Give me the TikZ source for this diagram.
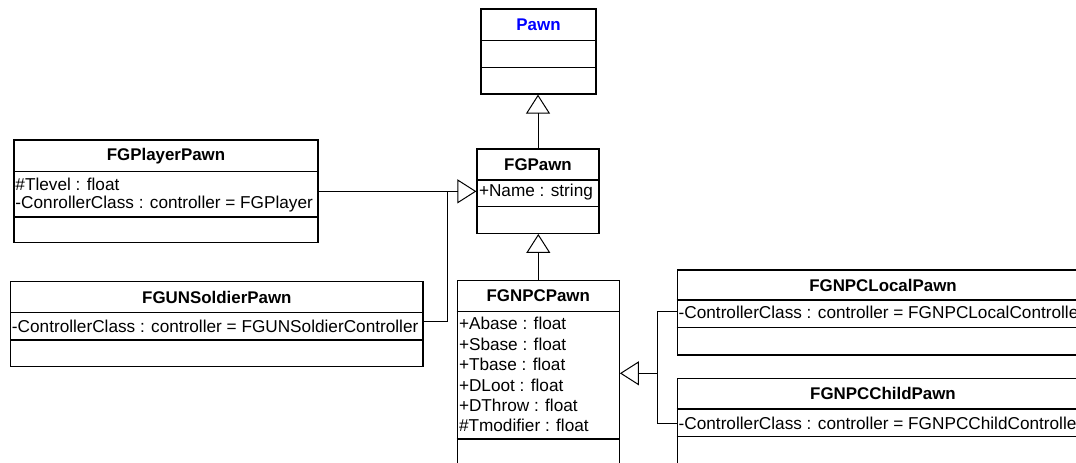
\documentclass[tikz,border=0pt]{standalone}
\usepackage{fontspec}
\setmainfont{Liberation Sans}
\usetikzlibrary{arrows.meta,calc}
\begin{document}
\begin{tikzpicture}[x=1pt,y=-1pt,
  font=\fontsize{17.2}{20}\selectfont,
  classbox/.style={draw, line width=1.2pt, inner sep=0pt, fill=white},
  hdr/.style={font=\fontsize{16.9}{20}\selectfont\bfseries, inner sep=0pt},
  attr/.style={anchor=west, inner sep=0pt},
  divline/.style={line width=1.2pt},
  conn/.style={draw, line width=1pt},
  gen/.style={-{Triangle[open, length=19pt, width=24pt]}}]
\useasboundingbox (0,0) rectangle (1076,463);
\clip (0,0) rectangle (1076,463);

% Pawn
\node[classbox, minimum width=115pt, minimum height=85pt] (pawn) at (538.5,51.5) {};
\node[hdr, text=blue] (pawnh) at (538.5,25) {Pawn};
\draw[divline] (pawn.west |- 0,40.7) -- (pawn.east |- 0,40.7);
\draw[divline] (pawn.west |- 0,67.7) -- (pawn.east |- 0,67.7);

% FGPawn
\node[classbox, minimum width=122pt, minimum height=84.3pt] (fgpawn) at (538,191.2) {};
\node[hdr] (fgpawnh) at (538,164.5) {FGPawn};
\draw[divline] (fgpawn.west |- 0,180) -- (fgpawn.east |- 0,180);
\draw[divline] (fgpawn.west |- 0,206.7) -- (fgpawn.east |- 0,206.7);
\node[attr] (fgpawn1) at (478.8,192.5) {+Name : string};

% FGPlayerPawn
\node[classbox, minimum width=304pt, minimum height=102.7pt] (player) at (166,191.35) {};
\node[hdr] (playerh) at (166,156) {FGPlayerPawn};
\draw[divline] (player.west |- 0,171.7) -- (player.east |- 0,171.7);
\draw[divline] (player.west |- 0,217) -- (player.east |- 0,217);
\node[attr] (player1) at (15.3,184.5) {\#Tlevel : float};
\node[attr] (player2) at (15.3,204.5) {-ConrollerClass : controller = FGPlayer};

% FGUNSoldierPawn
\node[classbox, minimum width=412.3pt, minimum height=85pt] (soldier) at (216.85,324.2) {};
\node[hdr] (soldierh) at (216.85,297.2) {FGUNSoldierPawn};
\draw[divline] (soldier.west |- 0,312.7) -- (soldier.east |- 0,312.7);
\draw[divline] (soldier.west |- 0,340) -- (soldier.east |- 0,340);
\node[attr] (soldier1) at (11.8,326.5) {-ControllerClass : controller = FGUNSoldierController};

% FGNPCPawn
\node[classbox, minimum width=162pt, minimum height=194.3pt] (npc) at (538.3,377.85) {};
\node[hdr] (npch) at (538.3,296) {FGNPCPawn};
\draw[divline] (npc.west |- 0,311.3) -- (npc.east |- 0,311.3);
\draw[divline] (npc.west |- 0,439) -- (npc.east |- 0,439);
\node[attr] (npc1) at (458.8,323.8) {+Abase : float};
\node[attr] (npc2) at (458.8,344.2) {+Sbase : float};
\node[attr] (npc3) at (458.8,364.6) {+Tbase : float};
\node[attr] (npc4) at (458.8,385.0) {+DLoot : float};
\node[attr] (npc5) at (458.8,405.4) {+DThrow : float};
\node[attr] (npc6) at (458.8,425.8) {\#Tmodifier : float};

% FGNPCLocalPawn
\node[classbox, minimum width=411.4pt, minimum height=85pt] (local) at (883,312.5) {};
\node[hdr] (localh) at (883,285) {FGNPCLocalPawn};
\draw[divline] (local.west |- 0,300) -- (local.east |- 0,300);
\draw[divline] (local.west |- 0,327.7) -- (local.east |- 0,327.7);
\node[attr] (local1) at (678.5,312.5) {-ControllerClass : controller = FGNPCLocalController};

% FGNPCChildPawn
\node[classbox, minimum width=411.4pt, minimum height=96.7pt] (child) at (883,426.65) {};
\node[hdr] (childh) at (883,393.7) {FGNPCChildPawn};
\draw[divline] (child.west |- 0,409) -- (child.east |- 0,409);
\draw[divline] (child.west |- 0,436.7) -- (child.east |- 0,436.7);
\node[attr] (child1) at (678.5,423.8) {-ControllerClass : controller = FGNPCChildController};

% connectors
\coordinate (jl) at (447,191.35);
\coordinate (jr) at (657,373.3);
\draw[conn, gen] (fgpawn.north) -- (fgpawn.north |- pawn.south);
\draw[conn, gen] (npc.north) -- (npc.north |- fgpawn.south);
\draw[conn, gen] (player.east) -- (fgpawn.west |- player.east);
\draw[conn] (soldier.east |- 0,321) -| (jl);
\draw[conn, gen] (jr) -- (npc.east |- jr);
\draw[conn] (local.west |- 0,311.7) -| (jr);
\draw[conn] (child.west |- 0,423.3) -| (jr);
\end{tikzpicture}
\end{document}
